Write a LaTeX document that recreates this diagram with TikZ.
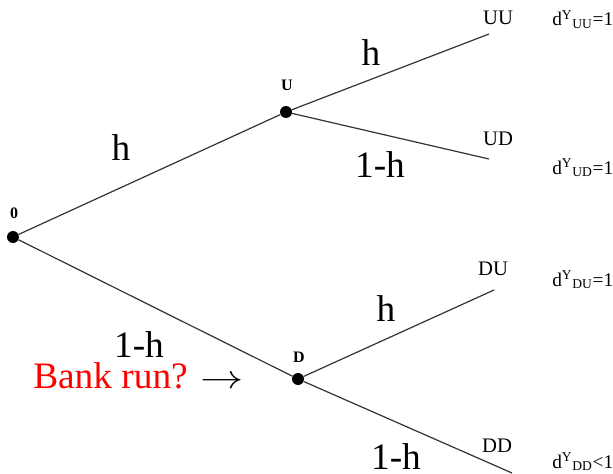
\documentclass[tikz,border=0pt]{standalone}
\usepackage{fontspec}
\setmainfont{Liberation Serif}
\begin{document}
\begin{tikzpicture}[
        x=0.75pt, y=-0.75pt,
        dot/.style={circle, fill=black, inner sep=0pt, minimum size=9pt},
        branch/.style={draw=black!80, line width=0.9pt},
        statelabel/.style={font=\fontsize{12}{14}\selectfont\bfseries, anchor=base, inner sep=0pt},
        leaflabel/.style={font=\fontsize{15.5}{18}\selectfont, anchor=base, inner sep=0pt},
        payoff/.style={font=\fontsize{14.5}{17}\selectfont, anchor=base west, inner sep=0pt},
        prob/.style={font=\fontsize{28}{32}\selectfont, anchor=base, inner sep=0pt}
    ]
    \useasboundingbox (0,0) rectangle (613,474);
    \node[dot] (root) at (13,237) {};
    \node[dot] (u) at (286,112) {};
    \node[dot] (d) at (298,379) {};
    \coordinate (uu) at (489,34);
    \coordinate (ud) at (489,159);
    \coordinate (du) at (494,290);
    \coordinate (dd) at (512,473);
    \draw[branch] (root) -- (u);
    \draw[branch] (root) -- (d);
    \draw[branch] (u) -- (uu);
    \draw[branch] (u) -- (ud);
    \draw[branch] (d) -- (du);
    \draw[branch] (d) -- (dd);
    \node[statelabel] (lroot) at (14,218) {0};
    \node[statelabel] (lu) at (287,91) {U};
    \node[statelabel] (ld) at (299,362) {D};
    \node[leaflabel] (luu) at (498,25) {UU};
    \node[leaflabel] (lud) at (498,146) {UD};
    \node[leaflabel] (ldu) at (493,275) {DU};
    \node[leaflabel] (ldd) at (497,452) {DD};
    \node[payoff] (puu) at (552,26) {d\textsuperscript{Y}\textsubscript{UU}=1};
    \node[payoff] (pud) at (552,174) {d\textsuperscript{Y}\textsubscript{UD}=1};
    \node[payoff] (pdu) at (552,286) {d\textsuperscript{Y}\textsubscript{DU}=1};
    \node[payoff] (pdd) at (552,468) {d\textsuperscript{Y}\textsubscript{DD}<1};
    \node[prob] (h1) at (121,161) {h};
    \node[prob] (q1) at (139,357) {1-h};
    \node[prob] (h2) at (371,66) {h};
    \node[prob] (q2) at (380,177) {1-h};
    \node[prob] (h3) at (386,321) {h};
    \node[prob] (q3) at (396,469) {1-h};
    \node[prob, anchor=base west] (run) at (33,388) {\textcolor{red}{Bank run?} \scalebox{1.3}[1]{$\rightarrow$}};
\end{tikzpicture}
\end{document}
